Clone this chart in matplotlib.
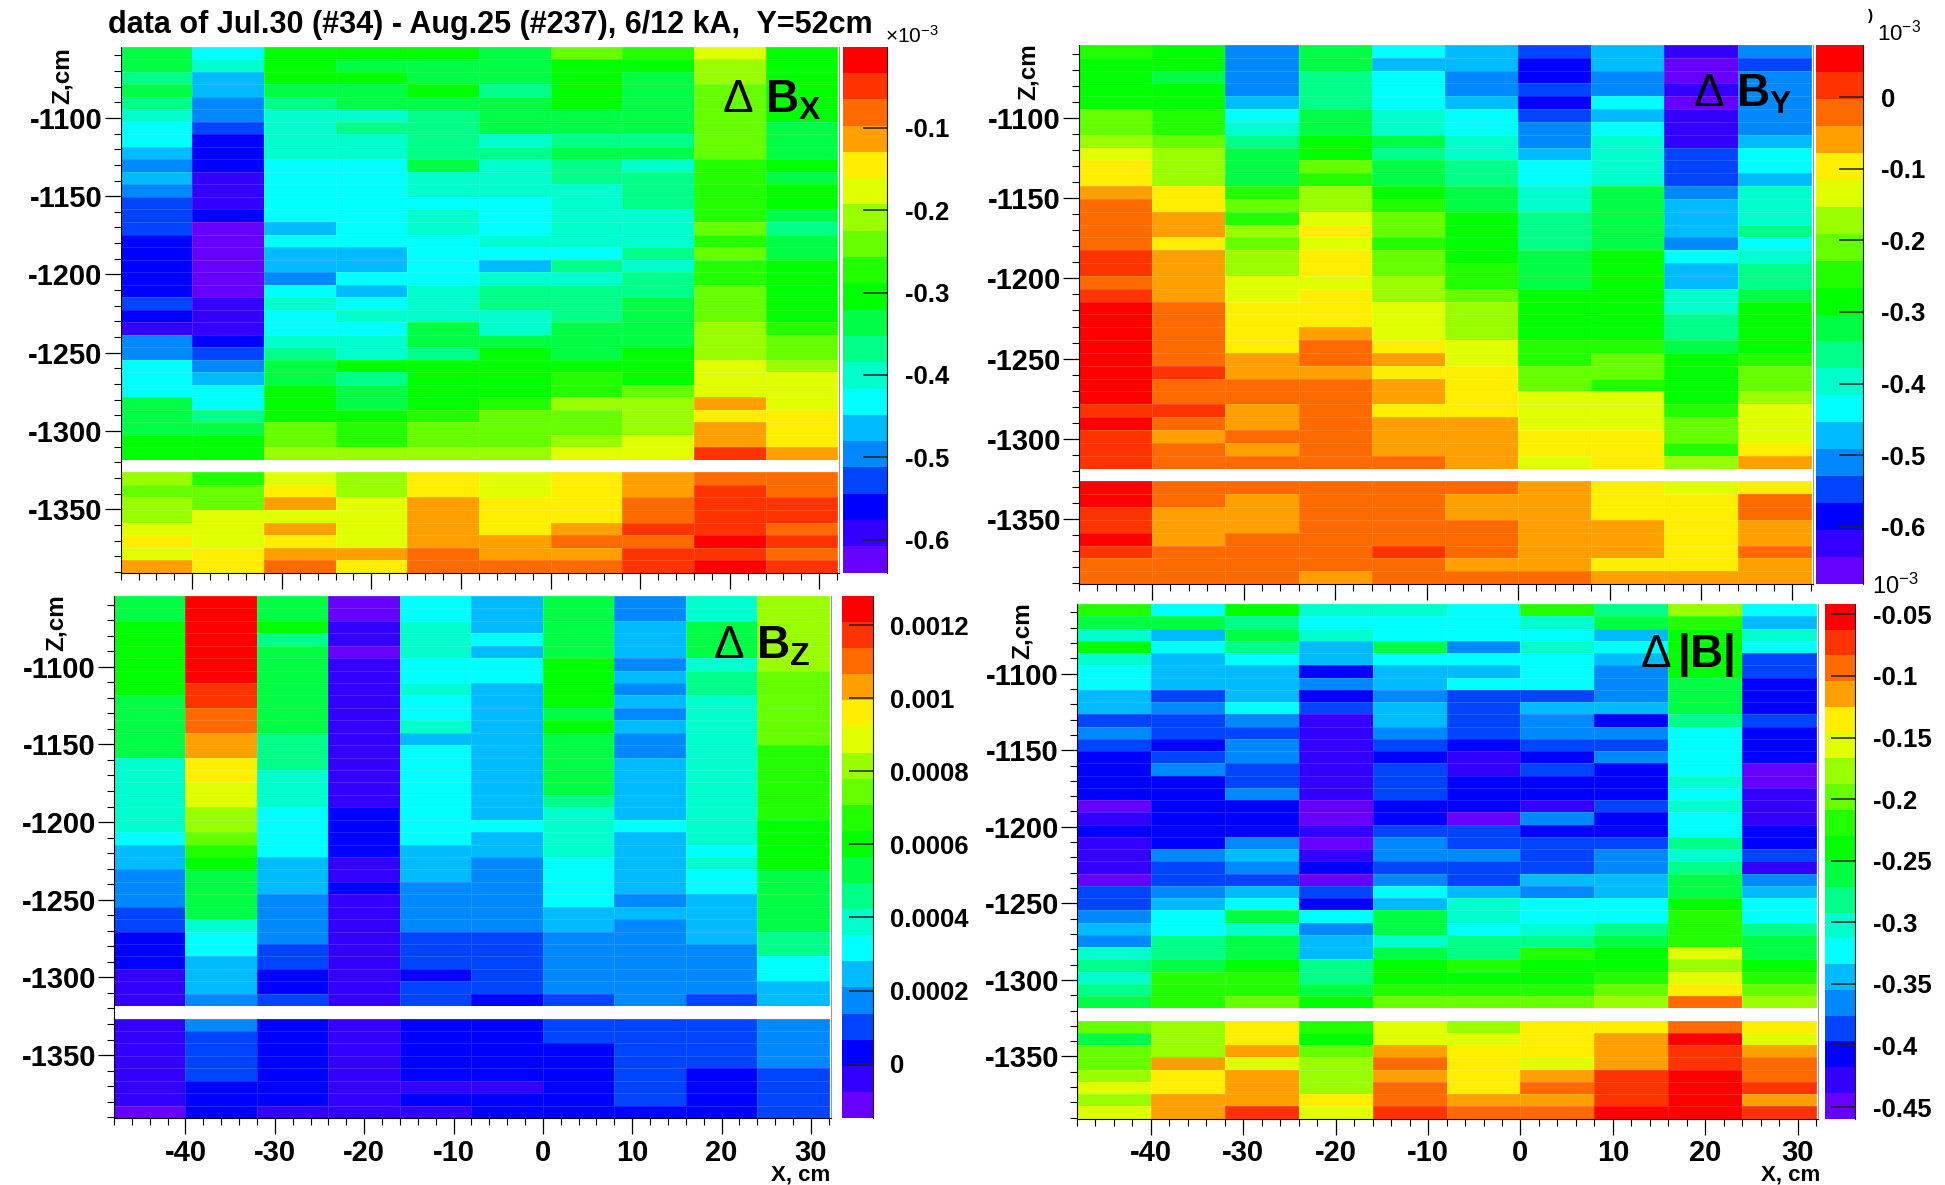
import matplotlib
matplotlib.use('Agg')
import matplotlib.pyplot as plt
import numpy as np
from matplotlib.colors import ListedColormap, Normalize
from matplotlib.ticker import MultipleLocator

plt.rcParams['font.family'] = ['Liberation Sans', 'DejaVu Sans']
plt.rcParams['mathtext.fontset'] = 'custom'
plt.rcParams['mathtext.rm'] = 'Liberation Sans'
plt.rcParams['mathtext.bf'] = 'Liberation Sans:bold'
plt.rcParams['mathtext.it'] = 'Liberation Sans:italic'
plt.rcParams['axes.unicode_minus'] = False

W, H = 1945, 1185
nan = float('nan')

# Data: palette level (0 = bottom of the colour bar, 19 = top) read per cell.
# Rows run from the top of the frame, row 33 is the hole at Z = -1320.
levels_bx = [
    [9, 6, 10, 10, 10, 9, 12, 11, 14, 10],
    [9, 7, 10, 9, 9, 9, 10, 10, 13, 10],
    [8, 5, 10, 10, 9, 9, 10, 9, 13, 10],
    [9, 5, 9, 9, 10, 8, 10, 9, 12, 10],
    [8, 4, 8, 9, 9, 9, 10, 9, 12, 10],
    [7, 4, 7, 7, 8, 9, 9, 9, 12, 10],
    [6, 3, 7, 8, 8, 9, 9, 9, 12, 9],
    [6, 2, 7, 7, 8, 7, 8, 8, 12, 9],
    [5, 2, 7, 7, 8, 8, 9, 9, 12, 9],
    [4, 2, 6, 6, 9, 7, 8, 7, 11, 10],
    [5, 1, 6, 6, 7, 7, 8, 8, 11, 9],
    [4, 1, 6, 6, 7, 7, 7, 8, 11, 10],
    [3, 1, 6, 6, 6, 6, 7, 8, 11, 10],
    [3, 2, 6, 6, 7, 6, 7, 7, 11, 9],
    [3, 0, 5, 6, 7, 6, 7, 7, 12, 8],
    [2, 0, 6, 6, 6, 7, 7, 7, 11, 9],
    [2, 0, 5, 5, 6, 6, 6, 8, 12, 9],
    [2, 0, 5, 5, 6, 5, 8, 7, 11, 10],
    [2, 0, 4, 6, 6, 7, 7, 8, 11, 10],
    [2, 0, 6, 5, 7, 8, 8, 8, 12, 10],
    [3, 1, 7, 6, 7, 8, 8, 9, 12, 10],
    [2, 1, 6, 7, 7, 7, 8, 9, 12, 10],
    [1, 1, 6, 6, 9, 7, 9, 9, 13, 11],
    [4, 2, 7, 7, 9, 9, 9, 9, 13, 12],
    [4, 3, 8, 7, 8, 10, 9, 10, 13, 12],
    [6, 4, 9, 10, 10, 10, 10, 10, 14, 13],
    [6, 5, 9, 8, 10, 10, 11, 10, 14, 14],
    [6, 6, 10, 9, 10, 10, 11, 12, 14, 14],
    [9, 6, 10, 9, 10, 11, 13, 13, 16, 14],
    [9, 8, 10, 10, 11, 12, 12, 13, 15, 15],
    [9, 9, 12, 11, 12, 12, 12, 13, 16, 15],
    [10, 10, 12, 11, 12, 12, 13, 14, 16, 15],
    [10, 10, 13, 13, 13, 13, 14, 14, 18, 16],
    [nan] * 10,
    [13, 11, 14, 13, 15, 14, 15, 16, 17, 17],
    [12, 12, 15, 13, 15, 14, 15, 16, 18, 17],
    [13, 12, 16, 14, 16, 15, 15, 17, 18, 18],
    [13, 14, 14, 14, 16, 15, 15, 17, 18, 18],
    [14, 14, 16, 14, 16, 15, 16, 18, 18, 17],
    [15, 14, 15, 14, 16, 16, 17, 17, 19, 18],
    [14, 15, 16, 16, 17, 16, 16, 18, 18, 17],
    [16, 15, 17, 15, 17, 17, 17, 18, 19, 18],
]
levels_by = [
    [11, 10, 4, 9, 6, 5, 3, 5, 1, 4],
    [10, 10, 4, 9, 5, 5, 2, 5, 0, 3],
    [10, 9, 4, 8, 6, 4, 2, 4, 0, 4],
    [10, 10, 4, 8, 6, 4, 3, 4, 1, 4],
    [10, 10, 5, 8, 6, 5, 2, 6, 0, 4],
    [12, 11, 6, 9, 7, 6, 3, 5, 1, 4],
    [12, 11, 7, 9, 7, 6, 4, 6, 1, 4],
    [13, 12, 8, 10, 9, 7, 4, 7, 1, 5],
    [14, 13, 9, 10, 8, 7, 5, 7, 3, 6],
    [15, 13, 9, 12, 9, 8, 6, 7, 3, 6],
    [15, 13, 9, 11, 9, 8, 6, 7, 3, 5],
    [16, 15, 11, 13, 10, 9, 7, 9, 4, 7],
    [17, 15, 12, 13, 11, 9, 7, 9, 5, 7],
    [17, 16, 11, 14, 12, 10, 8, 9, 5, 7],
    [17, 16, 13, 15, 12, 10, 8, 9, 5, 8],
    [17, 15, 12, 14, 11, 10, 8, 9, 4, 6],
    [18, 16, 13, 15, 12, 10, 9, 10, 6, 7],
    [18, 16, 13, 15, 12, 11, 9, 10, 5, 8],
    [17, 16, 14, 14, 13, 11, 9, 10, 5, 8],
    [18, 16, 14, 15, 13, 12, 10, 10, 7, 9],
    [19, 17, 15, 15, 14, 13, 10, 10, 7, 10],
    [19, 17, 15, 15, 14, 13, 10, 10, 8, 10],
    [19, 17, 15, 16, 14, 13, 10, 10, 8, 10],
    [19, 17, 15, 17, 15, 14, 11, 11, 9, 10],
    [19, 17, 16, 17, 16, 14, 11, 12, 10, 11],
    [19, 18, 16, 16, 15, 15, 12, 12, 10, 12],
    [19, 17, 17, 17, 16, 15, 12, 11, 10, 12],
    [19, 17, 17, 17, 16, 15, 14, 14, 10, 13],
    [18, 18, 16, 17, 15, 15, 14, 14, 11, 14],
    [19, 17, 16, 17, 16, 16, 14, 14, 12, 14],
    [18, 16, 17, 17, 16, 16, 15, 15, 12, 14],
    [18, 17, 16, 17, 16, 16, 15, 15, 11, 15],
    [18, 17, 17, 17, 17, 16, 14, 15, 13, 16],
    [nan] * 10,
    [19, 17, 17, 17, 17, 17, 16, 15, 14, 15],
    [19, 17, 16, 17, 17, 16, 16, 15, 15, 17],
    [18, 16, 16, 17, 17, 16, 16, 15, 15, 17],
    [18, 16, 16, 17, 17, 17, 16, 16, 15, 16],
    [19, 16, 17, 17, 17, 17, 16, 16, 15, 16],
    [18, 17, 17, 17, 18, 17, 16, 16, 15, 17],
    [17, 17, 17, 17, 17, 16, 16, 15, 15, 16],
    [17, 17, 17, 16, 17, 17, 17, 16, 16, 16],
]
levels_bz = [
    [9, 19, 9, 0, 6, 5, 9, 4, 7, 13],
    [9, 19, 9, 0, 6, 5, 9, 4, 7, 13],
    [10, 19, 10, 1, 7, 5, 9, 5, 9, 13],
    [10, 19, 8, 1, 7, 6, 9, 5, 9, 13],
    [10, 19, 9, 0, 7, 5, 9, 5, 9, 13],
    [10, 19, 9, 1, 6, 6, 10, 4, 7, 13],
    [10, 19, 9, 1, 6, 6, 10, 5, 8, 12],
    [10, 18, 9, 1, 7, 5, 10, 4, 8, 12],
    [9, 18, 9, 1, 6, 5, 10, 5, 7, 12],
    [9, 17, 9, 1, 6, 5, 9, 4, 7, 12],
    [9, 17, 9, 1, 7, 5, 10, 5, 7, 12],
    [9, 16, 8, 1, 5, 5, 9, 4, 7, 12],
    [9, 16, 8, 1, 6, 5, 9, 4, 7, 11],
    [7, 15, 8, 1, 6, 5, 9, 5, 7, 11],
    [7, 15, 7, 1, 6, 5, 9, 5, 7, 11],
    [7, 14, 7, 1, 6, 5, 9, 5, 7, 11],
    [7, 14, 7, 1, 6, 5, 8, 5, 7, 11],
    [7, 13, 6, 2, 6, 5, 7, 5, 7, 11],
    [7, 13, 6, 2, 6, 6, 7, 6, 7, 10],
    [6, 12, 6, 2, 6, 5, 7, 5, 7, 10],
    [5, 11, 6, 2, 5, 5, 7, 5, 6, 10],
    [5, 10, 5, 1, 5, 4, 6, 5, 7, 10],
    [4, 9, 5, 1, 5, 4, 6, 5, 6, 9],
    [4, 9, 5, 2, 4, 4, 6, 5, 6, 9],
    [4, 9, 4, 1, 4, 4, 6, 4, 5, 9],
    [3, 9, 4, 1, 4, 4, 5, 5, 5, 9],
    [3, 7, 4, 1, 4, 4, 5, 4, 5, 9],
    [2, 6, 4, 1, 3, 3, 4, 4, 5, 8],
    [2, 6, 3, 1, 3, 3, 4, 4, 4, 8],
    [2, 5, 3, 1, 3, 3, 4, 4, 4, 6],
    [1, 5, 2, 1, 2, 3, 4, 4, 4, 6],
    [1, 5, 2, 1, 3, 3, 4, 4, 4, 5],
    [1, 4, 3, 1, 3, 2, 3, 4, 3, 5],
    [nan] * 10,
    [1, 4, 2, 1, 2, 2, 3, 3, 3, 4],
    [1, 3, 2, 1, 2, 2, 3, 3, 3, 4],
    [1, 3, 2, 1, 2, 2, 2, 3, 3, 4],
    [1, 3, 2, 1, 2, 2, 2, 3, 3, 4],
    [1, 3, 2, 1, 2, 2, 2, 3, 2, 3],
    [1, 2, 2, 1, 1, 1, 2, 3, 2, 3],
    [1, 2, 2, 1, 2, 2, 2, 3, 2, 3],
    [0, 2, 1, 1, 1, 2, 2, 2, 2, 3],
]
levels_b = [
    [11, 6, 10, 7, 7, 6, 11, 8, 13, 6],
    [9, 9, 8, 6, 6, 6, 7, 9, 11, 5],
    [7, 5, 9, 7, 6, 6, 6, 5, 10, 7],
    [10, 6, 8, 5, 9, 4, 7, 6, 10, 6],
    [7, 5, 6, 5, 6, 6, 6, 5, 10, 3],
    [6, 5, 5, 2, 5, 5, 6, 4, 10, 3],
    [6, 5, 5, 4, 5, 6, 6, 4, 9, 2],
    [5, 3, 5, 2, 4, 3, 3, 4, 9, 2],
    [5, 4, 6, 3, 5, 3, 5, 5, 9, 2],
    [3, 3, 4, 1, 5, 3, 4, 2, 8, 3],
    [4, 3, 3, 1, 4, 3, 4, 4, 6, 2],
    [3, 2, 4, 1, 3, 2, 3, 3, 6, 2],
    [2, 3, 4, 1, 2, 1, 2, 4, 6, 2],
    [2, 4, 3, 1, 3, 1, 3, 2, 6, 0],
    [2, 2, 3, 1, 3, 2, 2, 2, 7, 0],
    [2, 2, 4, 1, 3, 2, 2, 2, 6, 1],
    [0, 2, 2, 0, 2, 2, 1, 3, 7, 1],
    [1, 2, 2, 0, 2, 0, 4, 2, 6, 1],
    [2, 2, 2, 1, 3, 3, 2, 2, 6, 2],
    [1, 2, 4, 0, 4, 3, 3, 3, 8, 2],
    [1, 4, 5, 1, 4, 4, 3, 4, 7, 3],
    [1, 3, 4, 2, 3, 3, 3, 4, 8, 1],
    [0, 3, 3, 0, 4, 3, 5, 5, 9, 4],
    [3, 4, 5, 3, 6, 5, 4, 5, 9, 5],
    [3, 5, 6, 2, 5, 7, 6, 6, 10, 6],
    [4, 6, 9, 6, 9, 7, 6, 6, 11, 6],
    [5, 6, 7, 4, 9, 6, 7, 8, 11, 8],
    [4, 8, 9, 5, 7, 8, 8, 9, 11, 9],
    [7, 8, 9, 5, 9, 8, 11, 10, 14, 9],
    [8, 9, 10, 8, 10, 11, 10, 10, 13, 10],
    [7, 11, 11, 8, 10, 10, 10, 11, 14, 11],
    [8, 11, 11, 9, 11, 11, 11, 12, 15, 12],
    [9, 11, 12, 10, 12, 12, 12, 13, 17, 13],
    [nan] * 10,
    [12, 13, 15, 11, 14, 13, 15, 15, 17, 15],
    [9, 13, 15, 10, 14, 14, 15, 16, 19, 14],
    [12, 13, 16, 12, 16, 15, 15, 16, 18, 16],
    [12, 16, 14, 13, 17, 15, 14, 16, 18, 17],
    [13, 15, 16, 13, 16, 15, 16, 18, 19, 17],
    [14, 15, 16, 13, 17, 15, 17, 18, 19, 18],
    [13, 16, 16, 15, 17, 16, 16, 18, 19, 16],
    [14, 16, 18, 14, 18, 17, 17, 19, 19, 18],
]

# colour bar ranges and labels
range_bx = (-0.64, -0.0014)
range_by = (-0.68, 0.073)
range_bz = (-0.000149, 0.00128)
range_b = (-0.4593, -0.0416)
ticks_bx = [-0.1, -0.2, -0.3, -0.4, -0.5, -0.6]
ticks_by = [0, -0.1, -0.2, -0.3, -0.4, -0.5, -0.6]
ticks_bz = [0.0012, 0.001, 0.0008, 0.0006, 0.0004, 0.0002, 0]
ticks_b = [-0.05, -0.1, -0.15, -0.2, -0.25, -0.3, -0.35, -0.4, -0.45]
labels_bx = ['-0.1', '-0.2', '-0.3', '-0.4', '-0.5', '-0.6']
labels_by = ['0', '-0.1', '-0.2', '-0.3', '-0.4', '-0.5', '-0.6']
labels_bz = ['0.0012', '0.001', '0.0008', '0.0006', '0.0004', '0.0002', '0']
labels_b = ['-0.05', '-0.1', '-0.15', '-0.2', '-0.25', '-0.3', '-0.35', '-0.4', '-0.45']

palette = ['#6600ff', '#3300ff', '#0000ff', '#0044ff', '#0088ff', '#00bbff', '#00ffff',
           '#00ffcc', '#00ff88', '#00ff44', '#00ff00', '#22ff00', '#66ff00', '#99ff00',
           '#e0ff00', '#ffee00', '#ffa000', '#ff6a00', '#ff3300', '#ff0000']
cmap = ListedColormap(palette)
cmap.set_bad('white')

x_edges = np.arange(-48, 33, 8)
z_edges = -1054.5 - 8 * np.arange(43)


def px_axes(fig, x0, x1, y0, y1):
    return fig.add_axes([x0 / W, 1 - y1 / H, (x1 - x0) / W, (y1 - y0) / H])


def panel(fig, levels, vrange, ticks, tick_text, box, cbox, fs, pad, xlabels):
    ax = px_axes(fig, *box)
    cax = px_axes(fig, cbox[0], cbox[1], box[2], box[3])
    vmin, vmax = vrange
    values = vmin + (np.array(levels) + 0.5) * (vmax - vmin) / 20
    norm = Normalize(vmin, vmax)
    mesh = ax.pcolormesh(x_edges, z_edges, np.ma.masked_invalid(values), cmap=cmap, norm=norm,
                         edgecolors=(1, 1, 1, 0.13), linewidth=0.5)
    ax.set_xlim(-48, 32.2)
    ax.set_ylim(z_edges[-1], z_edges[0])
    ax.xaxis.set_major_locator(MultipleLocator(10))
    ax.xaxis.set_minor_locator(MultipleLocator(2))
    ax.yaxis.set_major_locator(MultipleLocator(50))
    ax.yaxis.set_minor_locator(MultipleLocator(10))
    ax.tick_params(which='major', length=11.5, width=0.9, pad=1.5, labelsize=21)
    ax.tick_params(which='minor', length=5, width=0.8)
    ax.tick_params(axis='x', pad=3.5, labelbottom=xlabels)
    for t in ax.get_xticklabels() + ax.get_yticklabels():
        t.set_fontweight('bold')
    ax.spines['top'].set_visible(False)
    ax.spines['right'].set_color('#999999')

    cb = fig.colorbar(mesh, cax=cax)
    cb.outline.set_visible(False)
    cax.spines['right'].set_visible(True)
    cax.spines['right'].set_color('#222222')
    cb.set_ticks(ticks)
    cb.set_ticklabels(tick_text)
    cb.ax.minorticks_off()
    cax.tick_params(direction='in', length=17, width=1.1, pad=pad, labelsize=fs, color='#222222')
    for t in cax.get_yticklabels():
        t.set_fontweight('bold')
    return ax


fig = plt.figure(figsize=(W / 100, H / 100), dpi=100)

panel(fig, levels_bx, range_bx, ticks_bx, labels_bx, (120.6, 839, 46.7, 572.6), (843, 887), 18.5, 13, False)
panel(fig, levels_by, range_by, ticks_by, labels_by, (1079, 1812.6, 45, 584), (1816, 1863), 18.5, 13, False)
panel(fig, levels_bz, range_bz, ticks_bz, labels_bz, (114, 830.6, 596, 1118), (842, 873), 18.5, 12, True)
panel(fig, levels_b, range_b, ticks_b, labels_b, (1077, 1818, 604, 1118.5), (1824.5, 1855), 18.5, 13, True)


def label(x, y, s, **kw):
    fig.text(x / W, 1 - y / H, s, **kw)


label(108, 33, 'data of Jul.30 (#34) - Aug.25 (#237), 6/12 kA,  Y=52cm', fontsize=22, fontweight='bold')

# axis titles
for x, y in [(74, 47), (1040, 43), (68, 594), (1034, 602)]:
    label(x, y, 'Z,cm', rotation=90, ha='right', va='top', fontsize=17.5, fontweight='bold')
for x in [830, 1820]:
    label(x, 1181, 'X, cm', ha='right', fontsize=16, fontweight='bold')

# exponent labels of the colour bars
label(885, 43, r'$\times$10$^{-3}$', fontsize=15)
label(1877, 40, '10$^{-3}$', fontsize=16)
label(1868, 20, ')', fontsize=11, fontweight='bold')
label(1872, 594, '10$^{-3}$', fontsize=17)

# panel names
label(722, 112, r'$\Delta\ \mathbf{B}_{\mathbf{X}}$', fontsize=33)
label(1693, 107, r'$\Delta\ \mathbf{B}_{\mathbf{Y}}$', fontsize=33)
label(713, 658, r'$\Delta\ \mathbf{B}_{\mathbf{Z}}$', fontsize=33)
label(1640, 667, r'$\Delta\,\mathbf{|B|}$', fontsize=33)

plt.savefig('out.png', dpi=100)
